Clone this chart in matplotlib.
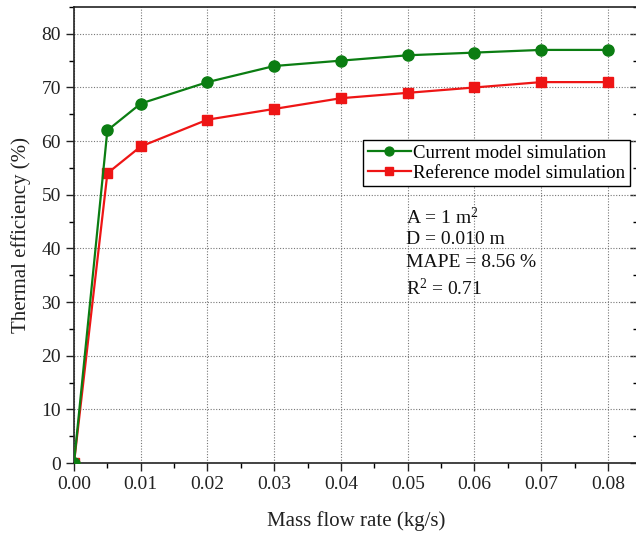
import matplotlib
matplotlib.use("Agg")
import matplotlib.pyplot as plt
from matplotlib.ticker import MultipleLocator

mass_flow = [0.0, 0.005, 0.01, 0.02, 0.03, 0.04, 0.05, 0.06, 0.07, 0.08]
current_model = [0.0, 62.0, 67.0, 71.0, 74.0, 75.0, 76.0, 76.5, 77.0, 77.0]
reference_model = [0.0, 54.0, 59.0, 64.0, 66.0, 68.0, 69.0, 70.0, 71.0, 71.0]
labels = ["Current model simulation", "Reference model simulation"]
notes = ["A = 1 m$^2$", "D = 0.010 m", "MAPE = 8.56 %", "R$^2$ = 0.71"]

plt.rcParams["font.family"] = ["Liberation Serif", "DejaVu Serif"]
plt.rcParams["mathtext.fontset"] = "custom"
plt.rcParams["mathtext.rm"] = "Liberation Serif"
plt.rcParams["mathtext.it"] = "Liberation Serif:italic"

W, H = 636, 536
fig = plt.figure(figsize=(W / 100, H / 100), dpi=100)
L, R, T, B = 74, 638, 7, 463
ax = fig.add_axes([L / W, (H - B) / H, (R - L) / W, (B - T) / H])

green = "#0b7d12"
red = "#ee1515"
ax.plot(mass_flow, reference_model, color=red, lw=1.6, marker="s", ms=7.5,
        label=labels[1], zorder=3)
ax.plot(mass_flow, current_model, color=green, lw=1.6, marker="o", ms=8,
        label=labels[0], zorder=4)

ax.set_xlim(0, 0.0845)
ax.set_ylim(0, 85)
ax.xaxis.set_major_locator(MultipleLocator(0.01))
ax.xaxis.set_minor_locator(MultipleLocator(0.005))
ax.yaxis.set_major_locator(MultipleLocator(10))
ax.yaxis.set_minor_locator(MultipleLocator(5))
ax.xaxis.set_major_formatter(plt.FormatStrFormatter("%.2f"))
ax.tick_params(which="major", direction="out", length=6, width=1,
               labelsize=14, colors="#222222", top=False, right=False)
ax.tick_params(which="minor", direction="out", length=3.5, width=1,
               top=False, right=False)
for sp in ax.spines.values():
    sp.set_linewidth(1.2)
    sp.set_color("#222222")
ax.grid(True, which="major", linestyle=(0, (1, 1.5)), color="#777777", lw=0.8)
ax.set_axisbelow(True)

sec = ax.secondary_yaxis("right")
sec.yaxis.set_major_locator(MultipleLocator(10))
sec.yaxis.set_minor_locator(MultipleLocator(5))
sec.tick_params(which="major", direction="in", length=6, width=1,
                labelright=False, colors="#222222")
sec.tick_params(which="minor", direction="in", length=3.5, width=1)

ax.set_xlabel("Mass flow rate (kg/s)", fontsize=15, color="#222222", labelpad=13)
ax.set_ylabel("Thermal efficiency (%)", fontsize=15, color="#222222", labelpad=7)

handles, labs = ax.get_legend_handles_labels()
leg = ax.legend(handles[::-1], labs[::-1], loc="upper left",
                bbox_to_anchor=((363 - L) / (R - L), (B - 140) / (B - T)),
                borderaxespad=0, fontsize=13.5, frameon=True, fancybox=False,
                edgecolor="black", framealpha=1, handlelength=2.3,
                handletextpad=0.1, borderpad=0.25, labelspacing=0.15,
                markerscale=0.8)
leg.get_frame().set_linewidth(1.0)

ys = [207, 231, 254, 278]
for t, yp in zip(notes, ys):
    ax.text((406 - L) / (R - L), (B - yp) / (B - T), t, transform=ax.transAxes,
            fontsize=14, va="top", ha="left", color="#111111")

fig.savefig("out.png", dpi=100)
